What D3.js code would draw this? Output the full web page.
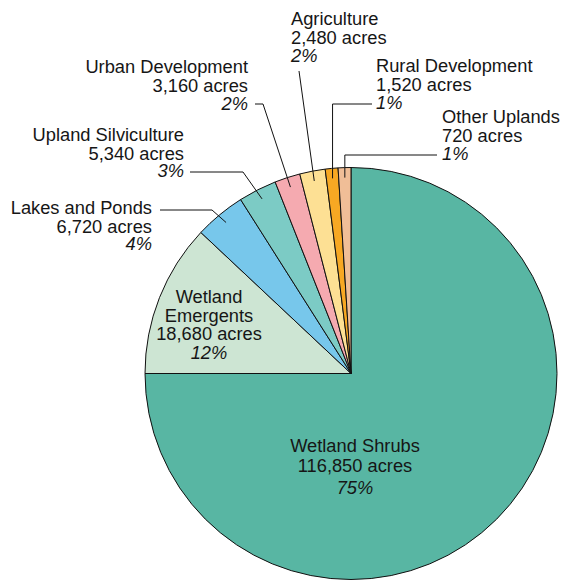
<!DOCTYPE html>
<html>
<head>
<meta charset="utf-8">
<script src="https://cdn.jsdelivr.net/npm/d3@7"></script>
<style>
  html, body { margin: 0; padding: 0; background: #fff; }
  svg { display: block; }
  text { font-family: "Liberation Sans", Arial, Helvetica, sans-serif; font-size: 18.3px; fill: #161616; }
</style>
</head>
<body>
<script>
// ---- data ----
const categories = ["Wetland Shrubs", "Wetland Emergents", "Lakes and Ponds", "Upland Silviculture",
                    "Urban Development", "Agriculture", "Rural Development", "Other Uplands"];
const acres = [116850, 18680, 6720, 5340, 3160, 2480, 1520, 720];
const percents = [75, 12, 4, 3, 2, 2, 1, 1];
const colors = ["#58b6a3", "#cde5d3", "#77c7eb", "#7ccbc5", "#f5aab0", "#fde094", "#f7a823", "#f0be97"];

// ---- layout (positions only) ----
const W = 563, H = 580;
const cx = 351, cy = 373.5, R = 206, leaderR = 196;
const labelLayout = [
  { x: 355, y: 452, anchor: "middle", dys: [0, 20, 22] },
  { x: 209, y: 303, anchor: "middle", wrap: true, dys: [0, 19, 18, 19] },
  { x: 152, y: 214, anchor: "end", dys: [0, 19, 17], start: [160, 210], elbow: [212, 210] },
  { x: 184, y: 141, anchor: "end", dys: [0, 19, 17], start: [190, 172], elbow: [243, 172] },
  { x: 248, y: 73, anchor: "end", dys: [0, 19, 18], start: [255, 104], elbow: [263, 104] },
  { x: 291, y: 25, anchor: "start", dys: [0, 18.5, 18.5], start: [299, 71], elbow: [299, 71] },
  { x: 376, y: 72, anchor: "start", dys: [0, 19, 17.5], start: [372, 104], elbow: ["v", 104] },
  { x: 442, y: 123, anchor: "start", dys: [0, 19, 18], start: [437, 155], elbow: ["v", 155] }
];

const svg = d3.select("body").append("svg").attr("width", W).attr("height", H);
const g = svg.append("g").attr("transform", `translate(${cx},${cy})`);

const pie = d3.pie().sort(null).value(d => d)(percents);
const arc = d3.arc().innerRadius(0).outerRadius(R);
const leaderArc = d3.arc().innerRadius(leaderR).outerRadius(leaderR);

g.selectAll("path.slice").data(pie).join("path")
  .attr("class", "slice")
  .attr("d", arc)
  .attr("fill", (d, i) => colors[i])
  .attr("stroke", "#111")
  .attr("stroke-width", 1)
  .attr("stroke-linejoin", "round");

const fmt = d3.format(",");

// leader lines
pie.forEach((d, i) => {
  const L = labelLayout[i];
  if (!L.start) return;
  const c = leaderArc.centroid(d);
  const end = [cx + c[0], cy + c[1]];
  const elbow = [L.elbow[0] === "v" ? end[0] : L.elbow[0], L.elbow[1]];
  svg.append("path")
    .attr("d", d3.line()([L.start, elbow, end]))
    .attr("fill", "none")
    .attr("stroke", "#111")
    .attr("stroke-width", 1);
});

// labels
categories.forEach((name, i) => {
  const L = labelLayout[i];
  const lines = (L.wrap ? name.split(" ") : [name]).map(t => ({ t, it: false }));
  lines.push({ t: fmt(acres[i]) + " acres", it: false });
  lines.push({ t: percents[i] + "%", it: true });
  const t = svg.append("text").attr("text-anchor", L.anchor).attr("x", L.x).attr("y", L.y);
  lines.forEach((ln, k) => {
    t.append("tspan")
      .attr("x", L.x)
      .attr("dy", k === 0 ? 0 : L.dys[k])
      .attr("font-style", ln.it ? "italic" : "normal")
      .text(ln.t);
  });
});
</script>
</body>
</html>
